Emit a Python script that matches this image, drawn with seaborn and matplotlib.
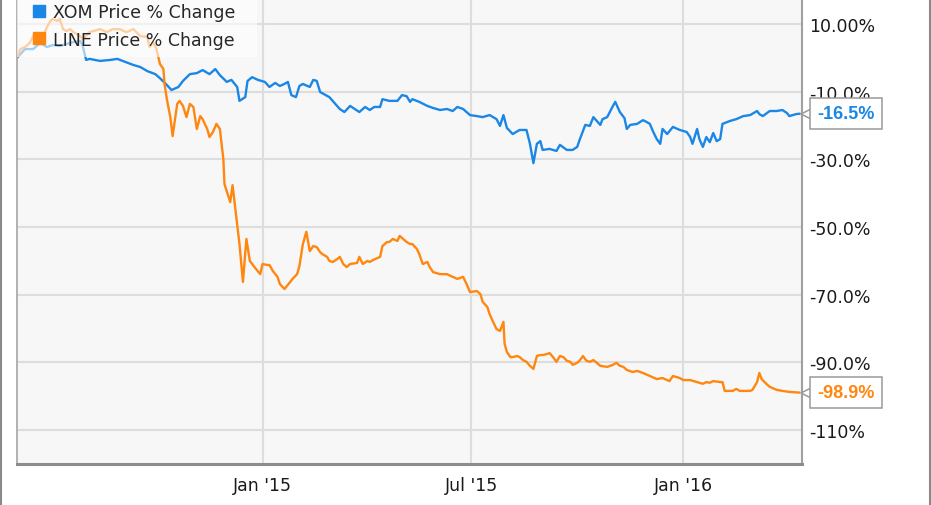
import numpy as np
import pandas as pd
import matplotlib
matplotlib.use("Agg")
import matplotlib.pyplot as plt
import matplotlib.transforms as mtransforms
from matplotlib.lines import Line2D
from matplotlib.patches import Rectangle
import seaborn as sns

# ---------------- data ----------------
start_date = "2014-06-02"

xom_day = [0, 7, 14, 20, 26, 31, 37, 43, 49, 55, 57, 60, 63, 72, 81, 87, 94, 101, 107, 113,
           120, 124, 130, 134, 140, 144, 150, 156, 161, 167, 172, 176, 182, 186, 191, 193, 198, 200, 204, 209,
           215, 219, 224, 228, 232, 235, 238, 242, 245, 248, 254, 257, 260, 263, 271, 280, 284, 289, 293, 297,
           302, 306, 310, 315, 317, 323, 330, 334, 338, 341, 343, 349, 356, 361, 367, 373, 378, 382, 387, 393,
           399, 404, 410, 416, 419, 422, 425, 430, 436, 442, 445, 448, 451, 454, 456, 462, 468, 471, 477, 482,
           486, 488, 493, 497, 500, 506, 508, 512, 517, 519, 523, 527, 529, 532, 538, 543, 546, 549, 552, 555,
           558, 560, 564, 569, 575, 581, 584, 586, 590, 592, 595, 598, 601, 604, 607, 610, 612, 618, 624, 630,
           636, 642, 644, 647, 653, 659, 664, 668, 670, 676, 679]
xom_pct = [0.0, 2.6, 2.6, 4.4, 3.2, 3.8, 3.5, 4.1, 4.7, 5.0, 3.5, -0.6, -0.3, -0.9, -0.6, -0.3, -1.2, -2.1, -2.7, -3.9,
           -4.8, -6.0, -8.0, -9.5, -8.6, -6.8, -4.8, -4.5, -3.6, -4.8, -3.3, -5.1, -7.1, -6.5, -8.6, -12.7, -11.6, -6.8, -5.7, -6.5,
           -7.1, -8.6, -7.4, -8.3, -7.7, -7.1, -11.0, -11.6, -8.3, -7.7, -8.6, -6.5, -6.8, -10.1, -11.6, -15.1, -16.0, -14.2, -15.1, -16.0,
           -14.5, -15.4, -14.5, -14.5, -12.2, -12.7, -12.7, -11.0, -11.3, -13.0, -12.2, -13.0, -14.2, -14.8, -15.4, -15.1, -15.7, -14.5, -15.1, -16.9,
           -17.2, -17.5, -16.9, -18.1, -20.1, -16.9, -20.7, -22.5, -21.3, -21.3, -25.4, -31.1, -25.4, -24.6, -27.2, -26.9, -27.5, -25.7, -27.2, -27.2,
           -26.3, -24.3, -19.8, -20.1, -17.5, -19.8, -18.1, -17.5, -14.2, -13.0, -16.0, -17.8, -21.0, -19.8, -19.5, -18.4, -18.9, -19.5, -21.9, -24.0,
           -25.4, -21.0, -22.5, -20.4, -21.3, -21.9, -23.4, -25.4, -21.0, -24.0, -26.3, -23.4, -24.9, -22.2, -24.6, -24.0, -19.5, -18.7, -18.1, -17.2,
           -16.9, -15.7, -16.6, -17.2, -15.7, -15.7, -15.4, -16.3, -17.2, -16.6, -16.5]

line_day = [0, 3, 7, 11, 14, 17, 20, 23, 26, 29, 31, 35, 37, 40, 43, 46, 49, 52, 55, 57,
            61, 63, 66, 72, 78, 83, 89, 95, 101, 107, 113, 115, 118, 121, 124, 127, 128, 130, 133, 135,
            139, 141, 144, 147, 150, 153, 156, 159, 161, 165, 167, 170, 173, 176, 179, 180, 185, 187, 191, 193,
            196, 199, 202, 206, 211, 213, 217, 219, 222, 226, 228, 232, 237, 239, 243, 245, 248, 251, 254, 257,
            260, 263, 265, 269, 271, 274, 278, 280, 283, 286, 289, 295, 297, 300, 304, 306, 309, 315, 317, 321,
            323, 326, 330, 332, 335, 338, 341, 343, 347, 349, 352, 356, 358, 361, 367, 373, 376, 382, 387, 390,
            393, 399, 402, 404, 408, 410, 413, 416, 419, 422, 423, 425, 428, 430, 434, 436, 439, 442, 445, 448,
            451, 454, 456, 460, 462, 465, 468, 471, 474, 477, 480, 482, 486, 488, 491, 494, 497, 500, 503, 506,
            512, 517, 520, 523, 526, 529, 534, 538, 543, 549, 555, 560, 566, 569, 575, 578, 584, 590, 595, 598,
            601, 604, 610, 612, 614, 621, 624, 627, 636, 638, 642, 644, 646, 650, 653, 659, 664, 670, 679]
line_pct = [0.0, 2.6, 3.2, 4.4, 6.4, 6.2, 7.0, 6.7, 9.1, 10.9, 11.5, 10.9, 11.5, 8.5, 7.9, 8.5, 7.6, 7.0, 6.4, 5.6,
            7.0, 7.6, 7.9, 8.5, 7.6, 8.5, 8.5, 7.6, 8.5, 6.4, 6.2, 3.2, 4.7, 2.6, -1.8, -3.3, -7.7, -12.2, -17.5, -23.1,
            -13.6, -12.7, -14.2, -17.5, -13.6, -14.5, -21.0, -17.2, -18.1, -21.0, -23.4, -21.9, -19.5, -21.0, -29.9, -37.3, -42.6, -37.6, -49.1, -55.0,
            -66.2, -53.5, -60.0, -61.8, -63.9, -60.9, -61.2, -61.2, -63.0, -64.7, -66.8, -68.3, -66.2, -65.3, -63.9, -61.5, -55.0, -51.4, -57.1, -55.6,
            -55.9, -57.4, -58.0, -58.8, -60.0, -60.3, -59.4, -58.8, -60.9, -61.8, -60.9, -60.6, -58.8, -60.9, -60.0, -60.3, -59.7, -58.8, -55.6, -54.4,
            -54.4, -53.5, -54.1, -52.6, -53.5, -54.4, -55.0, -55.0, -56.5, -58.0, -60.9, -60.3, -61.8, -63.3, -63.9, -63.9, -64.4, -65.3, -64.7, -66.8,
            -69.2, -68.9, -69.8, -72.1, -73.6, -75.7, -78.0, -80.1, -80.7, -78.0, -84.5, -86.9, -88.4, -88.4, -88.1, -88.4, -89.3, -89.8, -91.0, -91.9,
            -88.1, -87.8, -87.8, -87.5, -87.2, -88.4, -89.8, -88.1, -88.4, -89.5, -89.8, -90.7, -90.1, -89.5, -88.1, -89.5, -89.8, -89.3, -90.1, -91.0,
            -91.3, -90.7, -90.1, -91.0, -91.3, -92.2, -92.8, -92.5, -93.1, -94.0, -94.9, -94.6, -95.5, -94.0, -94.6, -95.2, -95.2, -95.8, -96.3, -95.8,
            -96.0, -95.5, -95.8, -95.8, -98.4, -98.4, -97.8, -98.4, -98.4, -98.1, -95.8, -93.1, -94.9, -96.3, -97.2, -98.1, -98.4, -98.7, -98.9]

series_names = ["XOM Price % Change", "LINE Price % Change"]
series_colors = ["#1a87e6", "#ff870f"]
last_labels = ["-16.5%", "-98.9%"]

y_ticks = [10, -10, -30, -50, -70, -90, -110]
y_tick_labels = ["10.00%", "-10.0%", "-30.0%", "-50.0%", "-70.0%", "-90.0%", "-110%"]
x_ticks = ["2015-01-01", "2015-07-01", "2016-01-01"]
x_tick_labels = ["Jan '15", "Jul '15", "Jan '16"]

# ---------------- build frame ----------------
t0 = pd.Timestamp(start_date)
df = pd.concat([
    pd.DataFrame({"date": t0 + pd.to_timedelta(xom_day, unit="D"), "pct": xom_pct, "series": series_names[0]}),
    pd.DataFrame({"date": t0 + pd.to_timedelta(line_day, unit="D"), "pct": line_pct, "series": series_names[1]}),
], ignore_index=True)

sns.set_style("white")
plt.rcParams["font.family"] = ["DejaVu Sans"]

W, H = 931, 506
fig = plt.figure(figsize=(W / 100, H / 100), dpi=100)
fig.patch.set_facecolor("white")
ax_l, ax_r, ax_t, ax_b = 17, 802, 0, 465
ax = fig.add_axes([ax_l / W, (H - ax_b) / H, (ax_r - ax_l) / W, (ax_b - ax_t) / H])
ax.set_facecolor("#f7f7f7")

palette = dict(zip(series_names, series_colors))
sns.lineplot(data=df, x="date", y="pct", hue="series", palette=palette,
             estimator=None, linewidth=1.7, ax=ax, legend=False)

ax.set_xlim(t0, t0 + pd.Timedelta(days=681))
ax.set_ylim(-120, 17.4)

ax.set_yticks(y_ticks)
ax.set_yticklabels(y_tick_labels)
ax.yaxis.tick_right()
ax.set_xticks(pd.to_datetime(x_ticks))
ax.set_xticklabels(x_tick_labels)
ax.set_xlabel("")
ax.set_ylabel("")
ax.tick_params(axis="y", length=0, pad=5, labelsize=12.5, labelcolor="#1a1a1a")
ax.tick_params(axis="x", length=0, pad=9, labelsize=12.5, labelcolor="#1a1a1a")

ax.grid(True, color="#dddddd", linewidth=1.5)
ax.set_axisbelow(True)

ax.spines["top"].set_visible(False)
ax.spines["left"].set_color("#a5a5a5")
ax.spines["left"].set_linewidth(1.2)
ax.spines["right"].set_color("#a0a0a0")
ax.spines["right"].set_linewidth(1.5)
ax.spines["bottom"].set_color("#8c8c8c")
ax.spines["bottom"].set_linewidth(2.2)

# legend with translucent white panel
ax.add_patch(Rectangle((0, 1 - 58 / 465), 240 / 785, 58 / 465, transform=ax.transAxes,
                       facecolor="white", alpha=0.6, edgecolor="none", zorder=4))
handles = [Line2D([0], [0], marker="s", linestyle="", color=c, markersize=9) for c in series_colors]
ax.legend(handles, series_names, loc="upper left", bbox_to_anchor=(13 / 785, 1 - 4 / 465),
          frameon=False, borderpad=0, borderaxespad=0, handlelength=1.0, handletextpad=0.3,
          labelspacing=0.55, fontsize=12.5)

# last value callouts
trans = mtransforms.blended_transform_factory(ax.transAxes, ax.transData)
last_vals = [xom_pct[-1], line_pct[-1]]
for val, lab, col in zip(last_vals, last_labels, series_colors):
    ax.plot([1 + 6 / 785], [val], marker="<", markersize=10, markerfacecolor="white",
            markeredgecolor="#9a9a9a", markeredgewidth=1.1, transform=trans, clip_on=False, zorder=9)
    ax.text(1 + 15 / 785, val, lab, transform=trans, ha="left", va="center",
            fontsize=13, fontweight="bold", color=col, family=["Liberation Sans", "DejaVu Sans"],
            bbox=dict(boxstyle="square,pad=0.4", facecolor="white", edgecolor="#9a9a9a", linewidth=1.1),
            clip_on=False, zorder=10)

# outer frame lines
fig.add_artist(Line2D([0.8 / W, 0.8 / W], [0, 1], transform=fig.transFigure, color="#8a8a8a", linewidth=1.5))
fig.add_artist(Line2D([(W - 1.2) / W, (W - 1.2) / W], [0, 1], transform=fig.transFigure, color="#8a8a8a", linewidth=1.5))

fig.savefig("out.png", dpi=100)
